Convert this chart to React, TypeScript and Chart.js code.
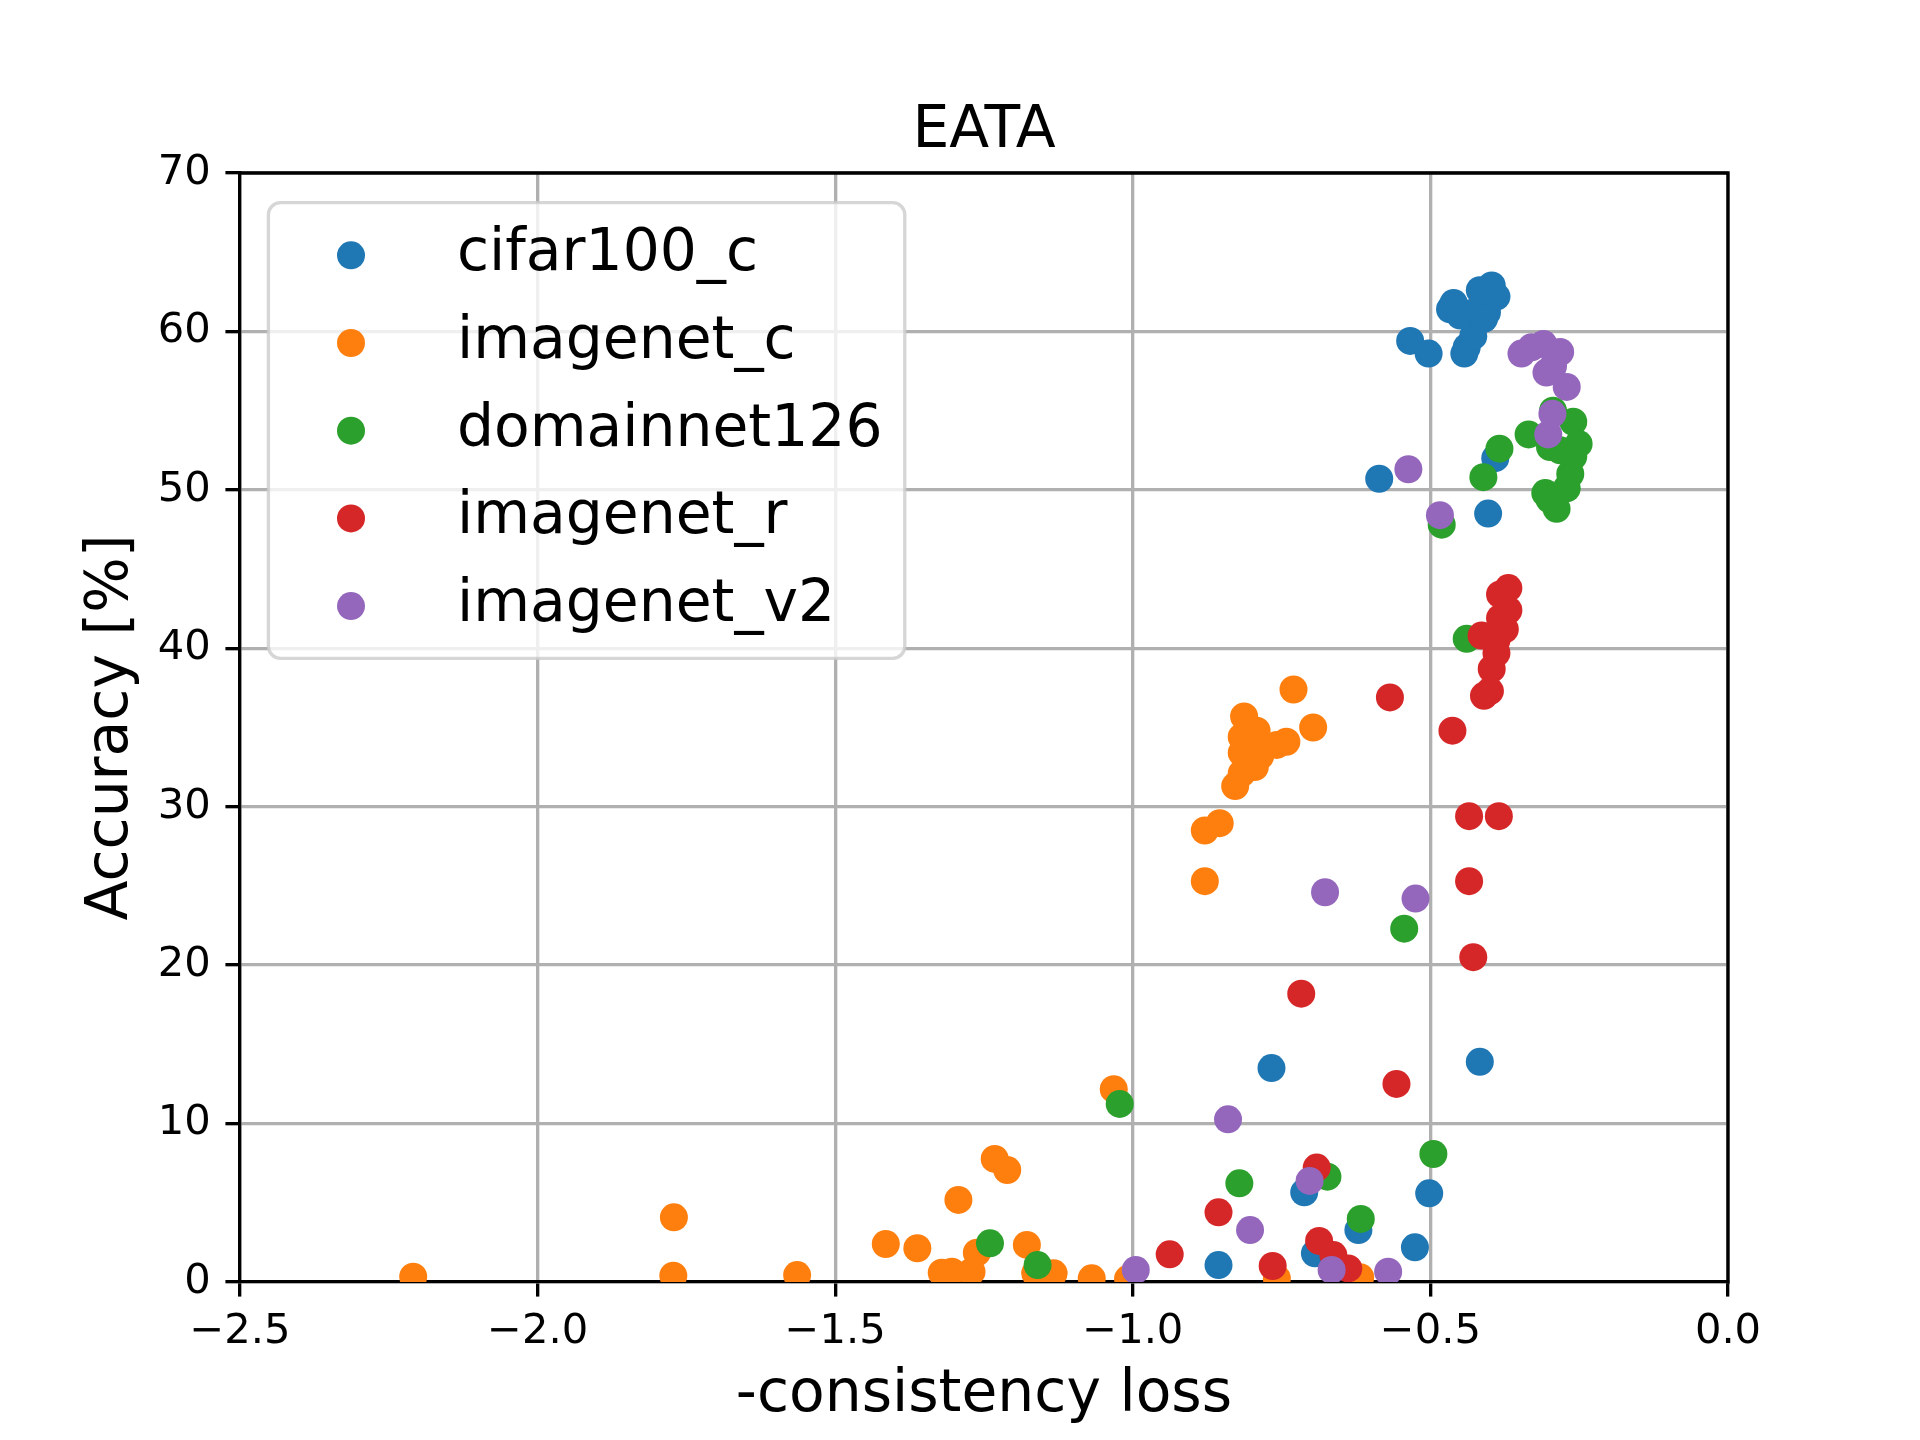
import { useRef, useEffect } from "react";
import { Chart, registerables, type Plugin } from "chart.js";

Chart.register(...registerables);

Chart.defaults.font.family = '"DejaVu Sans", sans-serif';
Chart.defaults.color = "#000000";

const PT = 300 / 72; // matplotlib points -> px at 300 dpi

// ── data: [-consistency loss, accuracy %] ─────────────────────────────────
const SERIES_NAMES = ["cifar100_c", "imagenet_c", "domainnet126", "imagenet_r", "imagenet_v2"];
const SERIES_COLORS = ["#1f77b4", "#ff7f0e", "#2ca02c", "#d62728", "#9467bd"];

const cifar100C: [number, number][] = [
  [-0.534, 59.4], [-0.503, 58.6], [-0.443, 58.6], [-0.439, 59.0], [-0.428, 59.7],
  [-0.428, 61.2], [-0.405, 61.2], [-0.467, 61.4], [-0.461, 61.8], [-0.45, 61.0],
  [-0.41, 60.8], [-0.417, 62.6], [-0.397, 62.9], [-0.389, 62.2],
  [-0.586, 50.7], [-0.391, 52.0], [-0.403, 48.5],
  [-0.417, 13.9], [-0.767, 13.5], [-0.502, 5.6], [-0.712, 5.66],
  [-0.621, 3.28], [-0.526, 2.19], [-0.694, 1.81], [-0.856, 1.07],
];

const imagenetC: [number, number][] = [
  [-0.730, 37.4], [-0.697, 35.0], [-0.813, 35.7], [-0.742, 34.1], [-0.758, 33.9],
  [-0.792, 34.8], [-0.817, 34.4], [-0.786, 33.2], [-0.817, 33.4], [-0.795, 32.5],
  [-0.817, 32.1], [-0.828, 31.3], [-0.854, 28.96], [-0.879, 28.5], [-0.879, 25.3],
  [-1.032, 12.17], [-1.232, 7.77], [-1.211, 7.07], [-1.293, 5.18], [-1.415, 2.40],
  [-1.362, 2.13], [-1.178, 2.34], [-1.262, 1.85], [-1.321, 0.59], [-1.304, 0.65],
  [-1.271, 0.65], [-1.164, 0.55], [-1.133, 0.55], [-1.069, 0.23], [-1.008, 0.2],
  [-0.758, 0.23], [-0.618, 0.3], [-2.209, 0.33], [-1.771, 4.08], [-1.772, 0.40],
  [-1.564, 0.44],
];

const domainnet126: [number, number][] = [
  [-0.335, 53.5], [-0.384, 52.6], [-0.411, 50.8], [-0.481, 47.8], [-0.294, 55.0],
  [-0.260, 54.3], [-0.251, 52.9], [-0.260, 52.1], [-0.265, 51.0], [-0.271, 50.1],
  [-0.307, 49.8], [-0.288, 48.8], [-0.282, 52.5], [-0.299, 52.7], [-0.300, 49.4],
  [-0.439, 40.6], [-0.544, 22.3], [-1.022, 11.24], [-0.495, 8.08], [-0.673, 6.65],
  [-0.821, 6.23], [-0.617, 3.98], [-1.240, 2.44], [-1.160, 1.07],
];

const imagenetR: [number, number][] = [
  [-0.369, 43.8], [-0.383, 43.4], [-0.369, 42.4], [-0.383, 41.9], [-0.375, 41.2],
  [-0.414, 40.8], [-0.389, 40.5], [-0.389, 39.7], [-0.397, 38.7], [-0.410, 37.0],
  [-0.400, 37.3], [-0.463, 34.8], [-0.568, 36.9], [-0.435, 29.4], [-0.385, 29.4],
  [-0.435, 25.3], [-0.428, 20.5], [-0.717, 18.2], [-0.557, 12.5], [-0.691, 7.22],
  [-0.856, 4.40], [-0.938, 1.75], [-0.765, 1.01], [-0.687, 2.59], [-0.663, 1.70],
  [-0.638, 0.86],
];

const imagenetV2: [number, number][] = [
  [-0.347, 58.6], [-0.330, 59.0], [-0.310, 59.2], [-0.282, 58.7], [-0.294, 57.8],
  [-0.305, 57.4], [-0.271, 56.5], [-0.295, 54.8], [-0.302, 53.5], [-0.537, 51.3],
  [-0.484, 48.4], [-0.677, 24.6], [-0.525, 24.2], [-0.840, 10.27], [-0.703, 6.38],
  [-0.803, 3.28], [-0.995, 0.76], [-0.666, 0.76], [-0.571, 0.65],
];

const SERIES = [cifar100C, imagenetC, domainnet126, imagenetR, imagenetV2];

const X_MIN = -2.5, X_MAX = 0, X_STEP = 0.5;
const Y_MIN = 0, Y_MAX = 70, Y_STEP = 10;

const TITLE = "EATA";
const X_LABEL = "-consistency loss";
const Y_LABEL = "Accuracy [%]";

// ── layout (px) ─────────────────────────────────────────────────────────
const W = 1920, H = 1440;
const AX_LEFT = 240, AX_RIGHT = 1728, AX_TOP = 173, AX_BOTTOM = 1282;
const LINE_W = 0.8 * PT;
const TICK_LEN = 3.5 * PT;
const MARKER_R = 14;
const FONT_TICK = 10 * PT;
const FONT_BIG = 14 * PT;
const TITLE_PAD_TOP = 97;

const fmtX = (v: number | string) => {
  const n = Math.round(Number(v) * 10) / 10;
  return (n < 0 ? "\u2212" : "") + Math.abs(n).toFixed(1);
};

// top + right spines
const spinesPlugin: Plugin = {
  id: "spines",
  afterDraw(chart) {
    const { ctx, chartArea: a } = chart;
    ctx.save();
    ctx.strokeStyle = "#000000";
    ctx.lineWidth = LINE_W;
    ctx.lineCap = "square";
    ctx.beginPath();
    ctx.moveTo(a.left, a.top);
    ctx.lineTo(a.right, a.top);
    ctx.lineTo(a.right, a.bottom);
    ctx.stroke();
    ctx.restore();
  },
};

// matplotlib-style framed legend in the upper-left corner
const legendPlugin: Plugin = {
  id: "mplLegend",
  afterDraw(chart) {
    const { ctx } = chart;
    const x0 = 268.4, y0 = 202.7, x1 = 904.8, y1 = 658.3, r = 12;
    ctx.save();
    ctx.beginPath();
    ctx.roundRect(x0, y0, x1 - x0, y1 - y0, r);
    ctx.fillStyle = "rgba(255,255,255,0.8)";
    ctx.fill();
    ctx.lineWidth = LINE_W;
    ctx.strokeStyle = "rgba(204,204,204,0.8)";
    ctx.stroke();

    ctx.font = `${FONT_BIG}px "DejaVu Sans"`;
    ctx.textAlign = "left";
    ctx.textBaseline = "alphabetic";
    SERIES_NAMES.forEach((name, i) => {
      const cy = 255.3 + i * 87.7;
      ctx.beginPath();
      ctx.arc(351, cy, MARKER_R, 0, Math.PI * 2);
      ctx.fillStyle = SERIES_COLORS[i];
      ctx.fill();
      ctx.fillStyle = "#000000";
      ctx.fillText(name, 457, cy + 15);
    });
    ctx.restore();
  },
};

export default function App() {
  const ref = useRef<HTMLCanvasElement>(null);

  useEffect(() => {
    if (!ref.current) return;
    const chart = new Chart(ref.current, {
      type: "scatter",
      data: {
        datasets: SERIES.map((pts, i) => ({
          label: SERIES_NAMES[i],
          data: pts.map(([x, y]) => ({ x, y })),
          backgroundColor: SERIES_COLORS[i],
          borderColor: SERIES_COLORS[i],
          borderWidth: 0,
          pointRadius: MARKER_R,
          pointHoverRadius: MARKER_R,
          order: SERIES.length - i,
          clip: 0,
        })),
      },
      options: {
        responsive: false,
        animation: false,
        devicePixelRatio: 1,
        events: [],
        layout: { padding: { left: 0, right: W - AX_RIGHT, top: 0, bottom: 0 } },
        plugins: {
          legend: { display: false },
          tooltip: { enabled: false },
          title: {
            display: true,
            text: TITLE,
            fullSize: false,
            color: "#000000",
            font: { size: FONT_BIG, weight: "normal", lineHeight: 1.2 },
            padding: { top: TITLE_PAD_TOP, bottom: AX_TOP - TITLE_PAD_TOP - FONT_BIG * 1.2 },
          },
        },
        scales: {
          x: {
            type: "linear",
            min: X_MIN,
            max: X_MAX,
            z: 1,
            afterFit: (s) => { s.height = H - AX_BOTTOM; },
            ticks: {
              stepSize: X_STEP,
              callback: fmtX,
              color: "#000000",
              font: { size: FONT_TICK },
              padding: 11,
              maxRotation: 0,
              autoSkip: false,
            },
            grid: {
              color: "#b0b0b0",
              lineWidth: LINE_W,
              drawTicks: true,
              tickLength: TICK_LEN,
              tickColor: "#000000",
              tickWidth: LINE_W,
            },
            border: { display: true, color: "#000000", width: LINE_W },
            title: {
              display: true,
              text: X_LABEL,
              color: "#000000",
              font: { size: FONT_BIG, lineHeight: 1.2 },
              padding: { top: 0, bottom: 9 },
            },
          },
          y: {
            type: "linear",
            min: Y_MIN,
            max: Y_MAX,
            z: 1,
            afterFit: (s) => { s.width = AX_LEFT; },
            ticks: {
              stepSize: Y_STEP,
              color: "#000000",
              font: { size: FONT_TICK },
              padding: TICK_LEN,
              autoSkip: false,
            },
            grid: {
              color: "#b0b0b0",
              lineWidth: LINE_W,
              drawTicks: true,
              tickLength: TICK_LEN,
              tickColor: "#000000",
              tickWidth: LINE_W,
            },
            border: { display: true, color: "#000000", width: LINE_W },
            title: {
              display: true,
              text: Y_LABEL,
              color: "#000000",
              font: { size: FONT_BIG, lineHeight: 1.2 },
              padding: { top: 77, bottom: 0 },
            },
          },
        },
      },
      plugins: [spinesPlugin, legendPlugin],
    });
    return () => { chart.destroy(); };
  }, []);

  return (
    <div style={{ position: "absolute", left: 0, top: 0, width: W, height: H, background: "#ffffff" }}>
      <canvas ref={ref} width={W} height={H} style={{ width: W, height: H, display: "block" }} />
    </div>
  );
}
